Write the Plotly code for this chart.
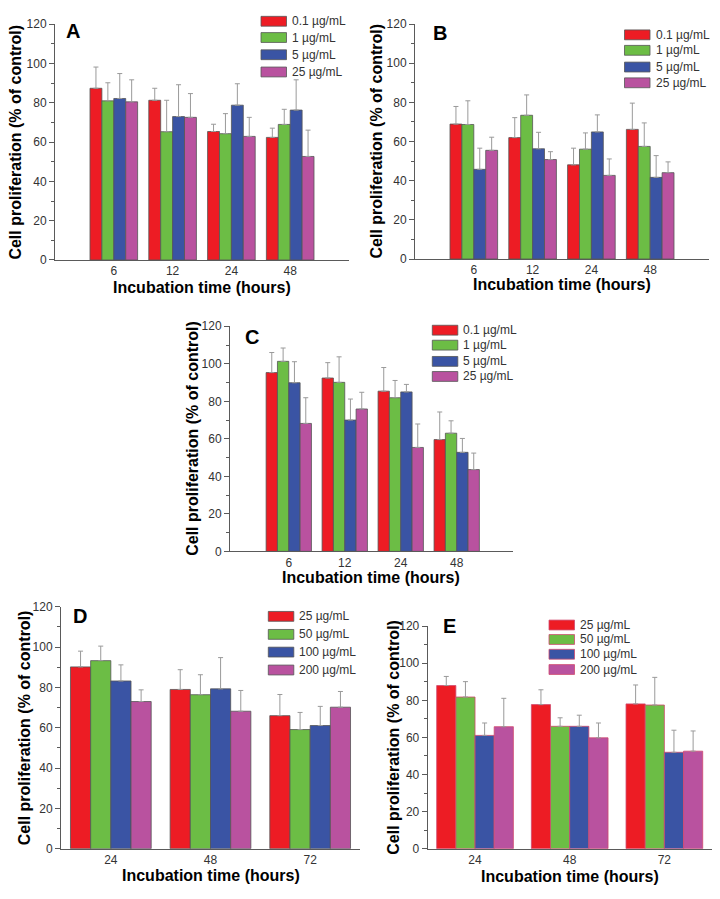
import plotly.graph_objects as go

# ---- data ----
hours_abc = ["6", "12", "24", "48"]
hours_de = ["24", "48", "72"]

doses_abc = ["0.1 µg/mL", "1 µg/mL", "5 µg/mL", "25 µg/mL"]
doses_de = ["25 µg/mL", "50 µg/mL", "100 µg/mL", "200 µg/mL"]

# panel A
a_means = [
    [87.4, 81.3, 65.4, 62.4],
    [81.0, 65.3, 64.3, 69.0],
    [82.2, 73.0, 78.8, 76.3],
    [80.5, 72.6, 62.9, 52.7],
]
a_sd = [
    [10.8, 6.1, 3.7, 4.7],
    [9.2, 16.0, 10.2, 7.7],
    [12.7, 16.2, 10.9, 15.4],
    [11.2, 12.1, 9.7, 13.4],
]

# panel B
b_means = [
    [68.9, 62.0, 48.1, 66.2],
    [68.7, 73.4, 56.1, 57.5],
    [45.8, 56.3, 64.9, 41.7],
    [55.5, 50.8, 42.7, 44.1],
]
b_sd = [
    [9.0, 10.2, 8.5, 13.4],
    [12.1, 10.4, 8.3, 12.0],
    [10.8, 8.4, 8.7, 11.1],
    [6.7, 4.0, 8.4, 5.5],
]

# panel C
c_means = [
    [95.3, 92.4, 85.4, 59.6],
    [101.3, 90.1, 81.9, 63.0],
    [89.9, 70.0, 85.0, 52.8],
    [68.2, 75.9, 55.4, 43.6],
]
c_sd = [
    [10.7, 8.2, 12.6, 14.7],
    [7.1, 13.6, 9.2, 6.6],
    [11.2, 11.2, 4.0, 7.4],
    [13.7, 8.9, 12.5, 8.8],
]

# panel D
d_means = [
    [90.2, 79.0, 66.0],
    [93.3, 76.4, 59.1],
    [83.2, 79.3, 61.1],
    [73.0, 68.2, 70.2],
]
d_sd = [
    [7.8, 9.8, 10.5],
    [7.2, 9.9, 8.5],
    [8.0, 15.5, 9.5],
    [5.8, 10.3, 7.8],
]

# panel E
e_means = [
    [88.0, 77.7, 78.1],
    [81.8, 66.0, 77.5],
    [61.1, 66.0, 52.0],
    [65.8, 59.8, 52.6],
]
e_sd = [
    [4.9, 8.0, 10.2],
    [8.3, 4.6, 14.9],
    [6.7, 6.0, 11.9],
    [15.3, 8.0, 10.9],
]

y_ticks = [0, 20, 40, 60, 80, 100, 120]

# ---- style ----
W, H = 720, 899
COLORS = ["#ed1c24", "#6cbd45", "#3a54a4", "#b9529f"]
FONT = "Liberation Sans, Arial, sans-serif"
AXIS_COLOR = "#5a5a5a"
TEXT_COLOR = "#333333"


def px(x):
    return x / W


def py(y):
    return 1 - y / H


# pixel boxes: left, right, top, bottom, plus letter / legend / title positions
panels = [
    dict(letter="A", cats=hours_abc, doses=doses_abc, means=a_means, sd=a_sd,
         box=(55, 349, 17.5, 257), xr=[-1, 4], letter_xy=(72.5, 24),
         leg_x=261, leg_y=[14.5, 31, 48.5, 66], ytitle_x=15.5, xtitle_y=285,
         outline="#555555"),
    dict(letter="B", cats=hours_abc, doses=doses_abc, means=b_means, sd=b_sd,
         box=(415, 709, 17.3, 256), xr=[-1, 4], letter_xy=(440, 26),
         leg_x=624.5, leg_y=[28.3, 44, 61, 77], ytitle_x=377, xtitle_y=282,
         outline="#555555"),
    dict(letter="C", cats=hours_abc, doses=doses_abc, means=c_means, sd=c_sd,
         box=(230, 512.7, 324.3, 553), xr=[-1.05, 4], letter_xy=(252.5, 335.7),
         leg_x=432.3, leg_y=[328.3, 343.5, 360, 375.3], ytitle_x=193, xtitle_y=580,
         outline="#555555"),
    dict(letter="D", cats=hours_de, doses=doses_de, means=d_means, sd=d_sd,
         box=(61, 360, 609.3, 855), xr=[-0.5, 2.5], letter_xy=(80, 618.7),
         leg_x=268.3, leg_y=[619, 637.3, 655.3, 673.5], ytitle_x=24.5, xtitle_y=882.5,
         outline="#555555"),
    dict(letter="E", cats=hours_de, doses=doses_de, means=e_means, sd=e_sd,
         box=(427.7, 711.7, 629, 855), xr=[-0.5, 2.5], letter_xy=(449, 629),
         leg_x=549, leg_y=[627.8, 642.5, 657.5, 673], ytitle_x=393.3, xtitle_y=883.5,
         outline="#cf4a6e"),
]

fig = go.Figure()
layout = dict(
    width=W, height=H,
    margin=dict(l=0, r=0, t=0, b=0),
    paper_bgcolor="white", plot_bgcolor="white",
    barmode="group", bargap=0.19, bargroupgap=0,
    showlegend=False,
    font=dict(family=FONT, size=12, color=TEXT_COLOR),
)
annotations = []
shapes = []

for i, p in enumerate(panels, start=1):
    xa = "x" if i == 1 else f"x{i}"
    ya = "y" if i == 1 else f"y{i}"
    left, right, top, bottom = p["box"]

    for k, dose in enumerate(p["doses"]):
        fig.add_trace(go.Bar(
            x=p["cats"], y=p["means"][k], name=dose,
            xaxis=xa, yaxis=ya, offsetgroup=str(k),
            marker=dict(color=COLORS[k], line=dict(color=p["outline"], width=0.8)),
            error_y=dict(type="data", symmetric=False, array=p["sd"][k],
                         arrayminus=[0] * len(p["cats"]),
                         color="#9a9a9a", thickness=1, width=2.5),
        ))

    layout["xaxis" if i == 1 else f"xaxis{i}"] = dict(
        domain=[px(left), px(right)], anchor=ya, type="category",
        range=p["xr"], showline=True, linecolor=AXIS_COLOR, linewidth=1,
        ticks="", showgrid=False, zeroline=False,
        tickfont=dict(family=FONT, size=12, color=TEXT_COLOR),
    )
    layout["yaxis" if i == 1 else f"yaxis{i}"] = dict(
        domain=[py(bottom), py(top)], anchor=xa, range=[0, 120],
        tickvals=y_ticks, showline=True, linecolor=AXIS_COLOR, linewidth=1,
        ticks="outside", ticklen=5, tickcolor=AXIS_COLOR, showgrid=False,
        zeroline=False,
        minor=dict(dtick=10, ticks="outside", ticklen=3, tickcolor=AXIS_COLOR),
        tickfont=dict(family=FONT, size=12, color=TEXT_COLOR),
    )

    # panel letter
    annotations.append(dict(
        text=f"<b>{p['letter']}</b>", x=px(p["letter_xy"][0]), y=py(p["letter_xy"][1]),
        xref="paper", yref="paper", showarrow=False,
        font=dict(family=FONT, size=20, color="black"),
        xanchor="center", yanchor="middle",
    ))
    # axis titles
    annotations.append(dict(
        text="<b>Incubation time (hours)</b>", x=px((left + right) / 2),
        y=py(p["xtitle_y"]), xref="paper", yref="paper", showarrow=False,
        font=dict(family=FONT, size=16, color="black"),
        xanchor="center", yanchor="middle",
    ))
    annotations.append(dict(
        text="<b>Cell proliferation (% of control)</b>", x=px(p["ytitle_x"]),
        y=py((top + bottom) / 2), xref="paper", yref="paper", showarrow=False,
        textangle=-90, font=dict(family=FONT, size=16, color="black"),
        xanchor="center", yanchor="middle",
    ))

    # legend: swatch rectangles + labels
    for k, dose in enumerate(p["doses"]):
        cy = p["leg_y"][k]
        shapes.append(dict(
            type="rect", xref="paper", yref="paper",
            x0=px(p["leg_x"]), x1=px(p["leg_x"] + 25.5),
            y0=py(cy + 5), y1=py(cy - 5),
            fillcolor=COLORS[k], line=dict(color=p["outline"], width=0.8),
        ))
        annotations.append(dict(
            text=dose, x=px(p["leg_x"] + 29), y=py(cy), xref="paper", yref="paper",
            showarrow=False, xanchor="left", yanchor="middle",
            font=dict(family=FONT, size=12, color=TEXT_COLOR),
        ))

layout["annotations"] = annotations
layout["shapes"] = shapes
fig.update_layout(**layout)

# drop the default page margin so the figure sits at the window origin
fig.write_html("out.html",
               config={"displayModeBar": False},
               post_script="document.body.style.margin='0';document.body.style.overflow='hidden';")
